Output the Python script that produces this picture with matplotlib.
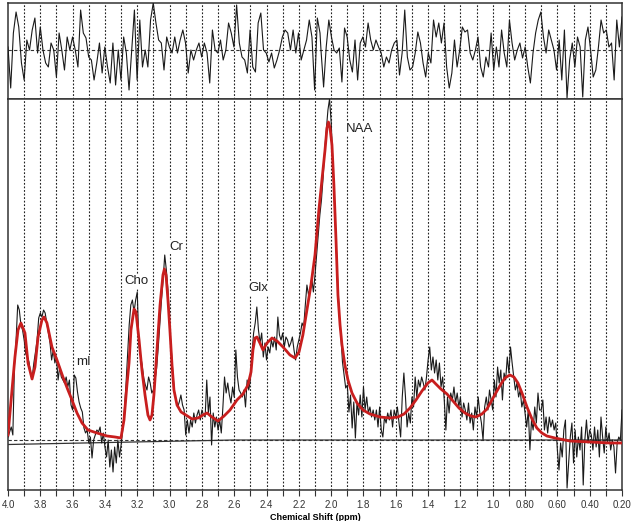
import matplotlib.pyplot as plt
import numpy as np

plt.rcParams['font.family'] = ['Liberation Sans', 'DejaVu Sans']

# measured spectrum, one value every 0.01 ppm from 4.00 down to 0.20
spectrum = [
    3, 8, 13, 5, 75, 100, 135, 130, 115, 110,
    100, 86, 83, 78, 67, 63, 77, 88, 100, 122,
    127, 123, 130, 127, 117, 107, 97, 80, 90, 77,
    83, 60, 73, 63, 60, 57, 63, 53, 60, 35,
    30, 65, 62, 48, 38, 32, 28, 12, 7, 10,
    -3, 3, -18, 0, 5, 10, 8, 13, -3, 7,
    -7, -17, 0, -27, -10, -32, -7, -23, 0, -17,
    -5, 10, 30, 55, 85, 115, 135, 140, 128, 140,
    148, 95, 85, 75, 62, 55, 50, 63, 57, 47,
    50, 60, 72, 93, 117, 140, 160, 185, 170, 150,
    115, 92, 68, 48, 40, 33, 38, 45, 35, 30,
    5, 20, 7, 20, 13, 27, 17, 25, 30, 20,
    30, 25, 23, 60, 27, 43, -5, 27, 13, 23,
    10, 20, 7, 33, 63, 47, 57, 45, 37, 53,
    43, 90, 63, 50, 47, 43, 50, 33, 60, 50,
    60, 87, 107, 117, 133, 110, 97, 107, 83, 97,
    80, 93, 87, 100, 93, 103, 90, 123, 105, 100,
    107, 93, 103, 100, 93, 97, 103, 90, 80, 93,
    100, 107, 117, 113, 135, 155, 145, 152, 162, 148,
    165, 185, 205, 225, 240, 262, 290, 310, 330, 341,
    318, 280, 240, 200, 160, 125, 105, 78, 65, 52,
    55, 28, 45, 12, 38, 2, 38, 25, 45, 23,
    53, 30, 43, 27, 33, 23, 30, 20, 30, 13,
    33, 10, 3, 23, 17, 27, 20, 30, 13, 30,
    23, 33, 17, 3, 43, 67, 43, 13, 27, 17,
    43, 33, 63, 43, 60, 53, 63, 57, 50, 63,
    80, 93, 70, 83, 67, 80, 60, 77, 53, 63,
    40, 10, 43, 27, 47, 40, 53, 37, 47, 33,
    43, 23, 37, 30, 20, 37, 17, 27, 10, 33,
    23, 43, 27, 17, 0, 33, 43, 30, 50, 40,
    30, 60, 43, 73, 57, 70, 40, 67, 60, 83,
    67, 93, 77, 63, 50, 57, 43, 50, 33, 40,
    27, 13, 30, -10, 20, 10, 33, 17, 47, 30,
    30, 40, 10, 23, 7, 23, 13, 20, 10, 17,
    -10, -30, -3, -17, 10, 20, -48, -23, 3, 17,
    -23, 10, -17, 3, -10, 13, -45, 0, 20, -3,
    10, 5, -10, 13, -7, 10, -17, 23, 3, -13,
    13, -3, 7, -10, 0, -7, -33, -3, 3, 0,
    30,
]

# fitted model (red)
fit_ppm = [4.000, 3.957, 3.938, 3.920, 3.895, 3.876, 3.851, 3.833, 3.814, 3.790,
           3.777, 3.759, 3.728, 3.697, 3.660, 3.629, 3.604, 3.573, 3.542, 3.505,
           3.449, 3.387, 3.338, 3.301, 3.282, 3.264, 3.251, 3.239, 3.220, 3.208,
           3.189, 3.171, 3.152, 3.134, 3.121, 3.109, 3.097, 3.078, 3.059, 3.041,
           3.032, 3.022, 3.010, 2.998, 2.985, 2.973, 2.954, 2.929, 2.899, 2.861,
           2.824, 2.793, 2.768, 2.738, 2.700, 2.663, 2.626, 2.583, 2.546, 2.515,
           2.496, 2.484, 2.471, 2.459, 2.441, 2.422, 2.397, 2.366, 2.335, 2.298,
           2.255, 2.224, 2.199, 2.175, 2.150, 2.125, 2.100, 2.076, 2.057, 2.038,
           2.026, 2.017, 2.007, 1.995, 1.983, 1.970, 1.958, 1.945, 1.933, 1.915,
           1.896, 1.871, 1.840, 1.803, 1.760, 1.698, 1.636, 1.587, 1.549, 1.512,
           1.475, 1.438, 1.401, 1.376, 1.352, 1.321, 1.283, 1.246, 1.209, 1.172,
           1.135, 1.104, 1.067, 1.036, 1.005, 0.974, 0.949, 0.925, 0.894, 0.869,
           0.844, 0.819, 0.788, 0.757, 0.727, 0.696, 0.665, 0.615, 0.522, 0.398,
           0.275, 0.200]
fit_val = [5, 83, 110, 117, 107, 77, 61, 73, 103, 120,
           123, 117, 93, 80, 63, 50, 40, 27, 17, 10,
           7, 4, 3, 2, 20, 55, 77, 110, 131, 128,
           100, 70, 45, 25, 20, 25, 45, 90, 135, 165,
           171, 165, 140, 110, 75, 50, 35, 28, 25, 21,
           22, 25, 27, 23, 19, 24, 30, 40, 46, 55,
           68, 90, 102, 103, 97, 90, 97, 102, 99, 93,
           85, 82, 88, 105, 130, 155, 185, 230, 260, 290,
           312, 318, 312, 295, 255, 200, 145, 115, 95, 75,
           60, 47, 37, 30, 26, 23, 22, 23, 26, 32,
           40, 49, 57, 60, 56, 51, 46, 39, 32, 27,
           24, 23, 26, 31, 40, 49, 56, 62, 65, 63,
           57, 47, 33, 21, 12, 7, 4, 2, -1, -2,
           -3, -3]

base_ppm = [4.0, 2.6, 0.2]
base_val = [-4.5, 0, 0]

# residual (top strip)
resid_hi = [3, -38, 17, 38, 23, -13, -30, 10, 0, 20,
            32, -3, 23, 0, -13, -17, 7, 0, -27, 17,
            0, -20, 13, 0, 13, 0, -17, 40, 17, 12,
            -7, -10, -30, -13, 7, -23, 3, -17, -33, 7,
            -35, 0, -30, 13, -3, -40, 0, 40, -30, 30,
            -17, 0, -17, 30, 47, 27, 10, 7, -20, 13,
            3, -3, 13, -3, 10, 20, 7, -23, 0, -10,
            0, 7, -7, 7, -3, -33, 20, 0, -3, 10,
            -10, 0, 27, 17, 3, 45, 7, -7, -10, -23,
            20, -17, -22, 27, 37, 0, -3, -12, -3, -18,
            -10, 0, 13, 20, 17, 0, 20, -3, 17, -10,
            0, 10, 30, 13, -40, 32, 17]
resid_lo = [0, -37, 3, 30, 13, 0, -3, 2, -32, 22,
            13, -10, -22, 10, -30, 7, 13, 3, 27, 10,
            0, 10, 3, -3, -17, -7, -13, 0, 7, 10,
            -25, -3, 40, -7, -20, -17, -3, 18, 7, -13,
            -27, -3, -13, 30, 13, 27, 7, 27, -17, -38,
            -23, 10, -17, 0, 23, 18, 20, -3, -10, 0,
            13, -17, -27, -7, -17, 17, -20, 3, -17, 20,
            -3, -17, 30, 7, -10, 0, 7, -8, 3, -17,
            -33, -3, 17, 30, 38, 13, -3, 20, 10, 0,
            -20, 10, -30, 20, -48, -10, 7, -17, 13, 3,
            -47, 10, 23, 0, -27, -20, 3, 30, 17, 20,
            3, 7, -30, 30, 3, 33]

peak_names = ['mI', 'Cho', 'Cr', 'Glx', 'NAA']
peak_ppm = [3.533, 3.208, 2.960, 2.453, 1.822]
peak_val = [78, 159, 193, 152, 311]

tick_labels = ['4.0', '3.8', '3.6', '3.4', '3.2', '3.0', '2.8', '2.6', '2.4', '2.2',
               '2.0', '1.8', '1.6', '1.4', '1.2', '1.0', '0.80', '0.60', '0.40', '0.20']

spec_ppm = np.linspace(4.0, 0.2, len(spectrum))
res_ppm = np.concatenate([np.linspace(4.0, 2.069, len(resid_hi)),
                          np.linspace(2.063, 0.2, len(resid_lo))])
resid = resid_hi + resid_lo

fig = plt.figure(figsize=(6.34, 5.21), dpi=100)
ax_r = fig.add_axes([8 / 634, 1 - 99 / 521, 614 / 634, 96 / 521])
ax = fig.add_axes([8 / 634, 1 - 490 / 521, 614 / 634, 391 / 521])

grid_pos = np.round(np.arange(0.3, 3.95, 0.1), 1)
dots = (0, (1.6, 1.6))

for a in (ax_r, ax):
    a.set_xlim(4.0, 0.2)
    for g in grid_pos:
        a.axvline(g, color='#222222', lw=0.8, ls=dots, zorder=1)
    for s in a.spines.values():
        s.set_color('#333333')
        s.set_linewidth(1.1)

# top: residual
ax_r.axhline(0, color='#333333', lw=0.8, ls=(0, (3, 2)), zorder=1)
ax_r.plot(res_ppm, resid, color='#1a1a1a', lw=0.8, zorder=3)
ax_r.set_ylim(-49, 47)
ax_r.set_xticks([])
ax_r.set_yticks([])

# bottom: spectrum and fit
ax.axhline(0, color='#333333', lw=0.8, ls=(0, (3, 2)), zorder=1)
ax.plot(base_ppm, base_val, color='#333333', lw=0.9, zorder=2)
ax.plot(spec_ppm, spectrum, color='#1a1a1a', lw=0.8, zorder=3)
ax.plot(fit_ppm, fit_val, color='#c81e1e', lw=2.0, zorder=4)
ax.set_ylim(-50, 341)
ax.set_yticks([])

major = np.round(np.arange(4.0, 0.15, -0.2), 1)
ax.set_xticks(major)
ax.set_xticklabels(tick_labels, fontsize=7, color='#333333')
ax.set_xticks(np.round(np.arange(3.9, 0.25, -0.2), 1), minor=True)
ax.tick_params(axis='x', which='both', direction='out', length=4, width=0.8,
               color='#333333', pad=3)
ax.set_xlabel('Chemical Shift (ppm)', fontsize=6.5, fontweight='bold', labelpad=2)

for name, x, y in zip(peak_names, peak_ppm, peak_val):
    ax.text(x, y, name, fontsize=9.5, ha='center', va='center', color='#222222',
            zorder=5, bbox=dict(facecolor='white', edgecolor='none', pad=0.5))

fig.savefig('out.png', dpi=100)
